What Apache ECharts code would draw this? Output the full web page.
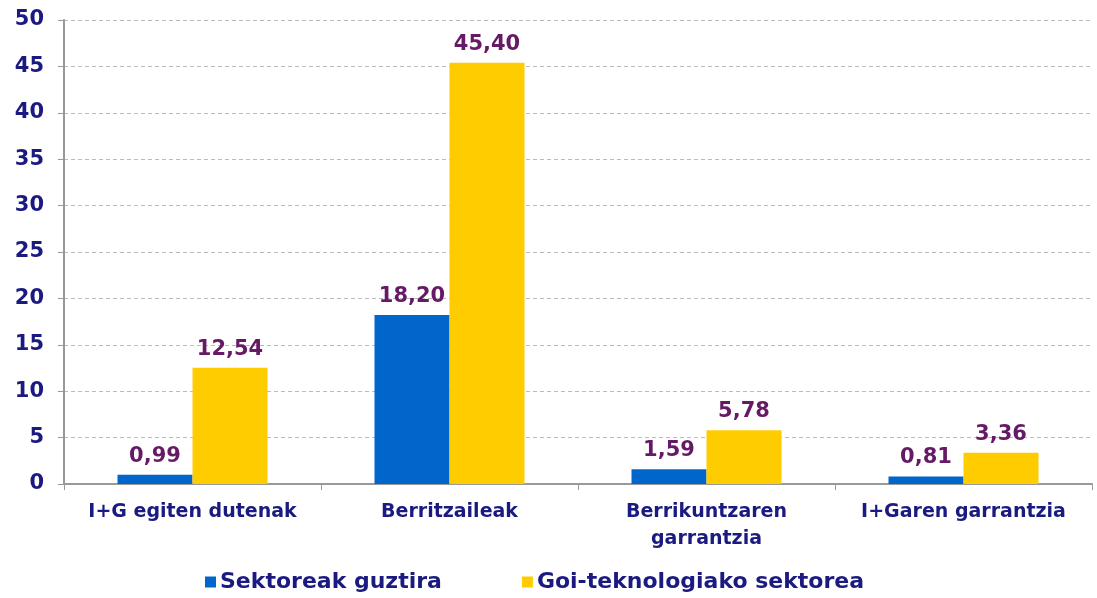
<!DOCTYPE html>
<html><head><meta charset="utf-8">
<script src="https://cdn.jsdelivr.net/npm/echarts@6/dist/echarts.min.js"></script>
<style>html,body{margin:0;padding:0;background:#fff}#c{width:1097px;height:598px}</style>
</head><body><div id="c"></div>
<script>
const categories = ['I+G egiten dutenak', 'Berritzaileak', 'Berrikuntzaren\ngarrantzia', 'I+Garen garrantzia'];
const seriesNames = ['Sektoreak guztira', 'Goi-teknologiako sektorea'];
const totalValues = [0.99, 18.20, 1.59, 0.81];
const hightechValues = [12.54, 45.40, 5.78, 3.36];
const yTicks = [0, 5, 10, 15, 20, 25, 30, 35, 40, 45, 50];

const font = 'DejaVu Sans';
const labelCfg = {
  show: true, position: 'top', distance: 8,
  color: '#661a66', fontFamily: font, fontWeight: 'bold', fontSize: 21,
  formatter: p => p.value.toFixed(2).replace('.', ',')
};
const chart = echarts.init(document.getElementById('c'));
chart.setOption({
  animation: false,
  grid: { left: 64, right: 5, top: 20, bottom: 114, containLabel: false },
  legend: {
    bottom: 0, left: 200, itemGap: 80, itemWidth: 11, itemHeight: 11, icon: 'rect',
    textStyle: { color: '#1a1a80', fontFamily: font, fontWeight: 'bold', fontSize: 22, padding: [0, 0, 0, -1] },
    data: seriesNames
  },
  xAxis: {
    type: 'category', data: categories,
    axisLine: { lineStyle: { color: '#999', width: 2 } },
    axisTick: { show: true, alignWithLabel: false, length: 6, lineStyle: { color: '#999' } },
    axisLabel: { interval: 0, color: '#1a1a80', fontFamily: font, fontWeight: 'bold', fontSize: 19, margin: 15, lineHeight: 27 }
  },
  yAxis: {
    type: 'value', min: yTicks[0], max: yTicks[yTicks.length - 1], interval: 5,
    axisLine: { show: true, lineStyle: { color: '#999', width: 2 } },
    axisTick: { show: true, length: 6, lineStyle: { color: '#999' } },
    splitLine: { lineStyle: { color: '#bbb', type: [4, 3] } },
    axisLabel: { color: '#1a1a80', fontFamily: font, fontWeight: 'bold', fontSize: 21, margin: 20 }
  },
  series: [
    { name: seriesNames[0], type: 'bar', data: totalValues, barWidth: 75, barGap: '0%',
      itemStyle: { color: '#0066cc' }, label: labelCfg },
    { name: seriesNames[1], type: 'bar', data: hightechValues, barWidth: 75,
      itemStyle: { color: '#ffcc00' }, label: labelCfg }
  ]
});
</script></body></html>
